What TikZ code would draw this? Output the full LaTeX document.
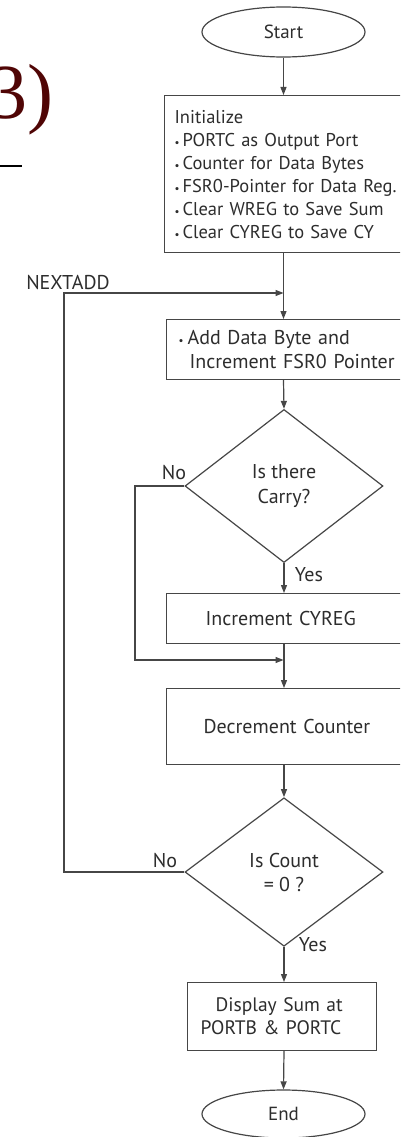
\documentclass[tikz,border=0pt]{standalone}
\usepackage{fontspec}
\setmainfont{PT Sans}
\newfontfamily\bigserif{Liberation Serif}
\usetikzlibrary{shapes.geometric,arrows.meta,calc}
\definecolor{ln}{RGB}{70,70,70}
\definecolor{tx}{RGB}{45,45,45}
\definecolor{maroonthree}{RGB}{80,5,5}
\newcommand{\bul}{\makebox[8pt][l]{\fontsize{11}{11}\selectfont\textbullet}}
\begin{document}
\begin{tikzpicture}[x=1pt,y=-1pt,
  every node/.style={font=\fontsize{20}{23}\selectfont, text=tx},
  box/.style={draw=ln, line width=1.2pt, rectangle, anchor=north west, align=left, inner ysep=0pt},
  term/.style={draw=ln, line width=1.2pt, ellipse, inner sep=0pt, minimum width=163pt, minimum height=50pt},
  dia/.style={draw=ln, line width=1.2pt, diamond, inner sep=0pt, minimum width=198pt, minimum height=128pt, align=center},
  arr/.style={draw=ln, line width=1.2pt, -{Triangle[length=8pt,width=6pt]}},
  lbl/.style={font=\fontsize{20}{22}\selectfont, inner sep=0pt}
]
\clip (0,0) rectangle (400,1137);
\fill[white] (0,0) rectangle (400,1137);

% title fragment
\node[anchor=base west, inner sep=0pt, text=maroonthree, font=\bigserif\fontsize{78}{78}\selectfont] (ttl) at (-12,118) {3)};
\draw[line width=2pt, black] (0,166) -- (22,166);

% nodes
\node[term, font=\fontsize{19}{22}\selectfont] (start) at (283.5,32) {Start};
\node[box, text width=240pt, inner xsep=10pt, minimum height=157pt, font=\fontsize{18.5}{23}\selectfont] (init) at (164,95)
  {Initialize\\\bul PORTC as Output Port\\\bul Counter for Data Bytes\\\bul FSR0-Pointer for Data Reg.\\\bul Clear WREG to Save Sum\\\bul Clear CYREG to Save CY};
\node[box, text width=230pt, inner xsep=12pt, minimum height=60pt, font=\fontsize{20}{24}\selectfont] (add) at (166,319)
  {\makebox[9pt][l]{\fontsize{11}{11}\selectfont\textbullet}Add Data Byte and\\\hspace*{11pt}Increment FSR0 Pointer};
\node[dia] (d1) at (284,486) {\raisebox{-4pt}{\parbox{110pt}{\centering\fontsize{20}{25}\selectfont Is there\\Carry?}}};
\node[box, text width=170pt, inner xsep=39pt, minimum height=50pt] (inc) at (166,593) {Increment CYREG};
\node[box, text width=175pt, inner xsep=37pt, minimum height=76pt] (decr) at (166,688) {Decrement Counter};
\node[dia] (d2) at (284,872) {\raisebox{-4pt}{\parbox{110pt}{\centering\fontsize{20}{24}\selectfont Is Count\\= 0 ?}}};
\node[box, text width=163pt, inner xsep=13pt, minimum height=68pt, font=\fontsize{19.5}{23}\selectfont] (disp) at (187,982)
  {\hspace*{15pt}Display Sum at\\PORTB \& PORTC};
\node[term, minimum height=48pt, font=\fontsize{19}{22}\selectfont] (end) at (283.5,1114) {End};

% helper coordinates
\coordinate (nx) at (283.5,293);
\coordinate (lp) at (64,293);
\coordinate (mg) at (283.5,660);
\coordinate (nl) at (135,660);

% connectors
\draw[arr] (start.south) -- (start.south |- init.north);
\draw[arr] (start.south |- init.south) -- (start.south |- add.north);
\draw[arr] (d2.west) -| (lp) -- (nx);
\draw[arr] (start.south |- add.south) -- (d1.north);
\draw[arr] (d1.west) -| (nl) -- (mg);
\draw[arr] (d1.south) -- (d1.south |- inc.north);
\draw[arr] (d1.south |- inc.south) -- (d1.south |- decr.north);
\draw[arr] (d1.south |- decr.south) -- (d2.north);
\draw[arr] (d2.south) -- (d2.south |- disp.north);
\draw[arr] (d2.south |- disp.south) -- (end.north);

% labels
\node[lbl] (lnext) at (68,282) {NEXTADD};
\node[lbl] (lno1) at (174,473) {No};
\node[lbl] (lyes1) at (309,575) {Yes};
\node[lbl] (lno2) at (165,860) {No};
\node[lbl] (lyes2) at (313,945) {Yes};
\end{tikzpicture}
\end{document}
